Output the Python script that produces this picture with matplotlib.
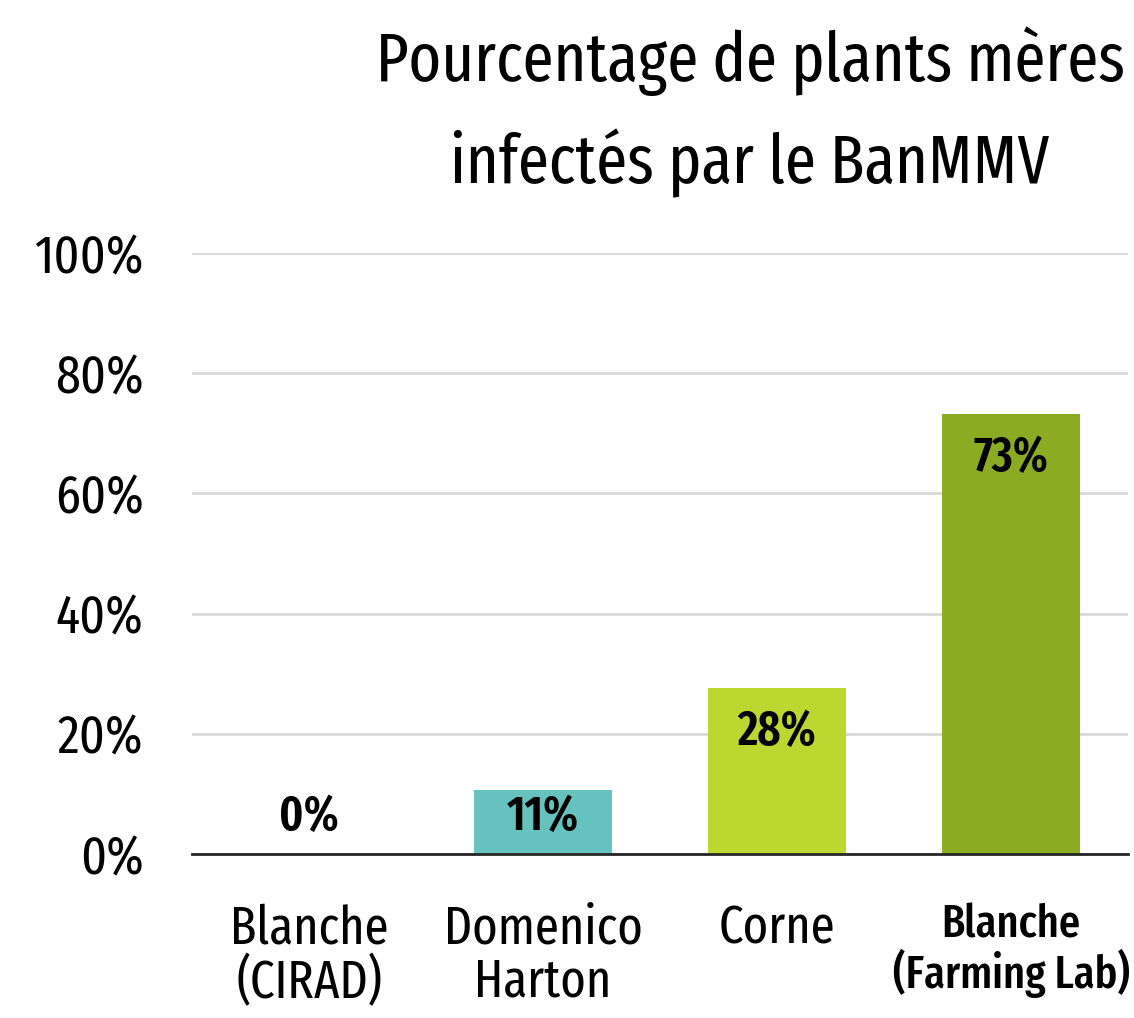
import numpy as np
import matplotlib
matplotlib.use('Agg')
import matplotlib.pyplot as plt

plt.rcParams['font.family'] = ['Fira Sans Extra Condensed', 'Liberation Sans Narrow', 'DejaVu Sans']

categories = ['Blanche\n(CIRAD)', 'Domenico\nHarton', 'Corne', 'Blanche\n(Farming Lab)']
values = [0.0, 10.7, 27.6, 73.2]
labels = ['0%', '11%', '28%', '73%']
colors = ['#66C2BE', '#66C2BE', '#BDD731', '#8BAB23']
yticks = [0, 20, 40, 60, 80, 100]
title = 'Pourcentage de plants mères\ninfectés par le BanMMV'

fig = plt.figure(figsize=(11.34, 10.18), dpi=100)
ax = fig.add_axes([192/1134, 1-854/1018, (1128-192)/1134, (854-253)/1018])

x = np.arange(len(categories))
ax.bar(x, values, width=0.59, color=colors, zorder=2)

for i in range(len(values)):
    y = max(values[i] - 7.3, 6.1)
    ax.text(x[i], y, labels[i], ha='center', va='center', fontsize=35,
            fontweight='semibold', color='black', zorder=3)

ax.set_xlim(-0.5, 3.5)
ax.set_ylim(0, 100)
ax.set_yticks(yticks)
ax.set_yticklabels([f'{t}%' for t in yticks], fontsize=39)
ax.set_xticks(x)
ax.set_xticklabels(categories, fontsize=38, linespacing=1.05)
ax.get_xticklabels()[-1].set_fontweight('medium')
ax.get_xticklabels()[-1].set_fontsize(33)
ax.tick_params(axis='both', length=0)
ax.tick_params(axis='x', pad=35)
ax.tick_params(axis='y', pad=35)

ax.grid(axis='y', color='#D9D9D9', linewidth=2, zorder=0)
for s in ['top', 'right', 'left']:
    ax.spines[s].set_visible(False)
ax.spines['bottom'].set_color('#262626')
ax.spines['bottom'].set_linewidth(2)
ax.spines['bottom'].set_zorder(4)

fig.text(750/1134, 1-183/1018, title, ha='center', va='baseline', fontsize=49,
         linespacing=1.6)

fig.savefig('out.png', dpi=100)
